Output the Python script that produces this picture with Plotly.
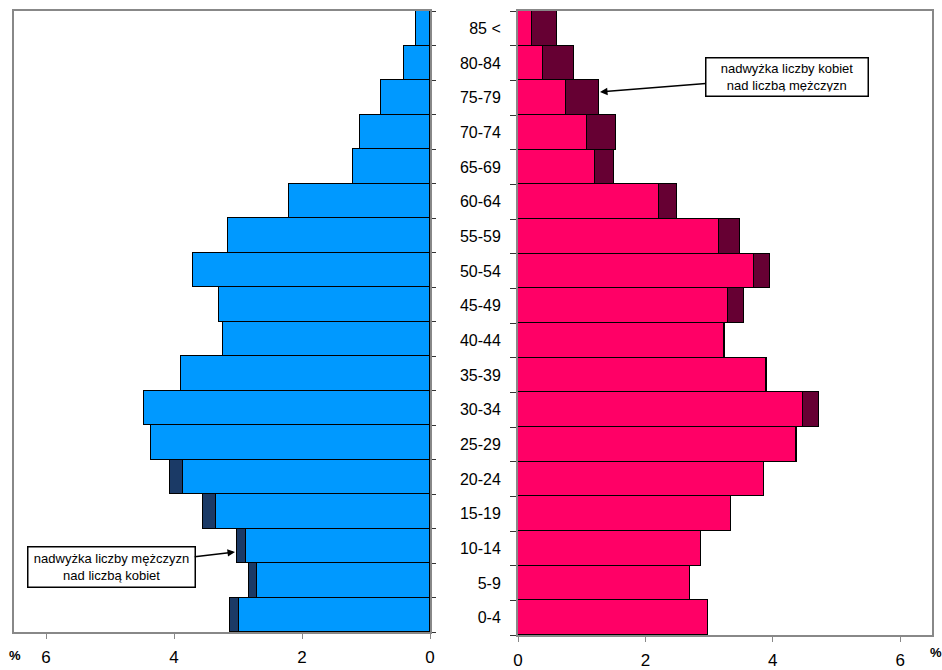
import plotly.graph_objects as go

ages = ["0-4", "5-9", "10-14", "15-19", "20-24", "25-29", "30-34", "35-39", "40-44",
        "45-49", "50-54", "55-59", "60-64", "65-69", "70-74", "75-79", "80-84", "85 <"]
men = [3.12, 2.83, 3.02, 3.54, 4.07, 4.36, 4.47, 3.89, 3.24,
       3.30, 3.71, 3.15, 2.21, 1.21, 1.09, 0.76, 0.40, 0.22]
women = [2.98, 2.70, 2.87, 3.34, 3.86, 4.38, 4.73, 3.91, 3.25,
         3.55, 3.96, 3.49, 2.50, 1.51, 1.54, 1.27, 0.88, 0.61]
x_ticks = [0, 2, 4, 6]

common = [min(m, w) for m, w in zip(men, women)]
men_excess = [max(m - w, 0) for m, w in zip(men, women)]
women_excess = [max(w - m, 0) for m, w in zip(men, women)]

FONT = "Liberation Sans, Arial, sans-serif"
W, H = 942, 670

def px(x):
    return x / W

def py(y):
    return (H - y) / H

line = dict(color="black", width=1.5)
fig = go.Figure()
fig.add_trace(go.Bar(y=ages, x=common, orientation="h", marker=dict(color="#0099FF", line=line),
                     xaxis="x", yaxis="y", hoverinfo="x+y"))
fig.add_trace(go.Bar(y=ages, x=men_excess, orientation="h", marker=dict(color="#1B3A66", line=line),
                     xaxis="x", yaxis="y", hoverinfo="x+y"))
fig.add_trace(go.Bar(y=ages, x=common, orientation="h", marker=dict(color="#FF0066", line=line),
                     xaxis="x2", yaxis="y2", hoverinfo="x+y"))
fig.add_trace(go.Bar(y=ages, x=women_excess, orientation="h", marker=dict(color="#660033", line=line),
                     xaxis="x2", yaxis="y2", hoverinfo="x+y"))

frame = "#888888"
xcommon = dict(tickmode="array", tickvals=x_ticks, ticktext=[str(v) for v in x_ticks],
               ticks="outside", ticklen=5, tickcolor=frame, showline=True, linecolor=frame,
               linewidth=2, mirror=True, showgrid=False, zeroline=False, automargin=False,
               tickfont=dict(family=FONT, size=17, color="black"), ticklabelstandoff=4)
fig.update_layout(
    width=W, height=H, margin=dict(l=0, r=0, t=0, b=0, autoexpand=False),
    paper_bgcolor="white", plot_bgcolor="white", showlegend=False,
    barmode="stack", bargap=0,
    xaxis=dict(domain=[px(14), px(430)], range=[6.5, 0], anchor="y", **xcommon),
    xaxis2=dict(domain=[px(518), px(932)], range=[0, 6.5], anchor="y2", **xcommon),
    yaxis=dict(domain=[py(632), py(11)], anchor="x", side="right", type="category",
               categoryorder="array", categoryarray=ages, range=[-0.5, 17.5],
               showticklabels=False, ticks="outside", ticklen=4, tickcolor="#333333",
               tickson="boundaries", showline=True, linecolor=frame, linewidth=2, mirror=True,
               showgrid=False, automargin=False),
    yaxis2=dict(domain=[py(635), py(11)], anchor="x2", side="left", type="category",
                categoryorder="array", categoryarray=ages, range=[-0.5, 17.5],
                showticklabels=True, ticks="outside", ticklen=6, tickcolor="#333333",
                tickson="boundaries", showline=True, linecolor=frame, linewidth=2, mirror=True,
                showgrid=False, ticklabelstandoff=12, automargin=False,
                tickfont=dict(family=FONT, size=16, color="black")),
)

fig.add_annotation(xref="paper", yref="paper", x=px(15), y=py(655), text="<b>%</b>",
                   xanchor="center", yanchor="middle",
                   showarrow=False, font=dict(family=FONT, size=13, color="black"))
fig.add_annotation(xref="paper", yref="paper", x=px(936), y=py(652), text="<b>%</b>",
                   xanchor="center", yanchor="middle",
                   showarrow=False, font=dict(family=FONT, size=13, color="black"))

box = dict(showarrow=True, arrowhead=2, arrowsize=1, arrowwidth=1.5, arrowcolor="black",
           bordercolor="black", borderwidth=1.5, borderpad=4, bgcolor="white",
           font=dict(family=FONT, size=13, color="black"), align="center")
fig.add_annotation(xref="paper", yref="paper", x=px(600), y=py(92), width=153, height=29,
                   ax=187, ay=-15, text="nadwyżka liczby kobiet<br>nad liczbą mężczyzn", **box)
fig.add_annotation(xref="paper", yref="paper", x=px(235), y=py(552), width=158, height=31,
                   ax=-124, ay=15, text="nadwyżka liczby mężczyzn<br>nad liczbą kobiet", **box)

fig.write_html("out.html", config={"displayModeBar": False},
               post_script="document.body.style.margin='0';document.body.style.overflow='hidden';")
